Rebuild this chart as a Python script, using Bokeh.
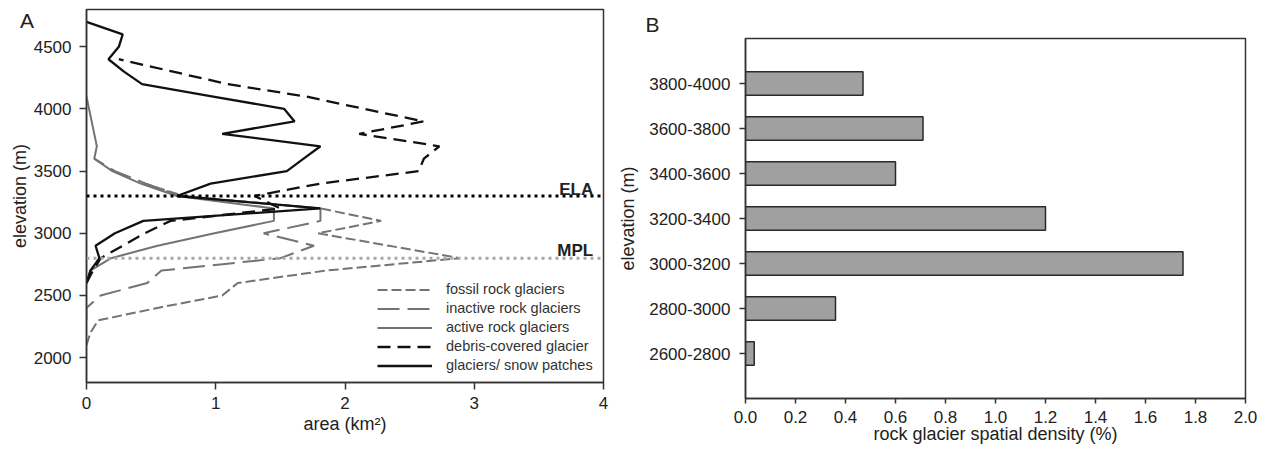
from jinja2 import Template
from bokeh.plotting import figure
from bokeh.models import Range1d, FixedTicker, Span, Label, PrintfTickFormatter, Title, Div
from bokeh.embed import file_html
from bokeh.resources import INLINE

# ---------------- Panel A data: area (km2) per 100 m elevation band ----------------
fossil_elev = [2100, 2200, 2300, 2400, 2500, 2600, 2700, 2800, 2900, 3000, 3100, 3200, 3300, 3400]
fossil_area = [0.00, 0.03, 0.09, 0.55, 1.05, 1.17, 1.85, 2.89, 2.34, 1.79, 2.28, 1.81, 0.75, 0.45]

inactive_elev = [2300, 2400, 2500, 2600, 2700, 2800, 2900, 3000, 3100, 3200, 3300, 3400, 3500, 3600]
inactive_area = [0.00, 0.00, 0.11, 0.47, 0.58, 1.50, 1.76, 1.37, 1.81, 1.81, 0.72, 0.46, 0.22, 0.06]

active_elev = [2600, 2700, 2800, 2900, 3000, 3100, 3200, 3300, 3400, 3500, 3600, 3700, 3800, 3900, 4000, 4100]
active_area = [0.00, 0.03, 0.19, 0.55, 0.99, 1.45, 1.45, 0.70, 0.42, 0.20, 0.06, 0.08, 0.06, 0.04, 0.02, 0.00]

debris_elev = [2600, 2700, 2800, 2900, 3000, 3100, 3200, 3300, 3400, 3500, 3600, 3700, 3800, 3900,
               4000, 4100, 4200, 4300, 4400]
debris_area = [0.00, 0.05, 0.11, 0.28, 0.45, 0.65, 1.50, 1.30, 1.81, 2.57, 2.61, 2.73, 2.11, 2.61,
               2.15, 1.70, 1.09, 0.67, 0.25]

glacier_elev = [2600, 2700, 2800, 2900, 3000, 3100, 3200, 3300, 3400, 3500, 3600, 3700, 3800, 3900,
                4000, 4100, 4200, 4300, 4400, 4500, 4600, 4700]
glacier_area = [0.00, 0.03, 0.10, 0.07, 0.22, 0.44, 1.81, 0.70, 0.96, 1.55, 1.68, 1.81, 1.05, 1.61,
                1.53, 0.98, 0.43, 0.29, 0.17, 0.25, 0.28, 0.00]

ela_elev = 3300
mpl_elev = 2800

a_xticks = [0, 1, 2, 3, 4]
a_yticks = [2000, 2500, 3000, 3500, 4000, 4500]

# ---------------- Panel B data ----------------
bands = ["2600-2800", "2800-3000", "3000-3200", "3200-3400", "3400-3600", "3600-3800", "3800-4000"]
density = [0.035, 0.36, 1.75, 1.20, 0.60, 0.71, 0.47]
b_xticks = [0.0, 0.2, 0.4, 0.6, 0.8, 1.0, 1.2, 1.4, 1.6, 1.8, 2.0]

FONT = "Liberation Sans"
TXT = "#222222"
AX = "#333333"
GRAY = "#737373"


def style_axes(p):
    for ax in (p.xaxis[0], p.yaxis[0]):
        ax.axis_line_color = AX
        ax.axis_line_width = 1.5
        ax.major_tick_line_color = AX
        ax.major_tick_line_width = 1.5
        ax.major_tick_in = 0
        ax.minor_tick_line_color = None
        ax.major_label_text_font = FONT
        ax.major_label_text_font_size = "17px"
        ax.major_label_text_color = TXT
        ax.axis_label_text_font = FONT
        ax.axis_label_text_font_size = "18px"
        ax.axis_label_text_font_style = "normal"
        ax.axis_label_text_color = TXT
    p.xgrid.visible = False
    p.ygrid.visible = False
    p.outline_line_color = AX
    p.outline_line_width = 1.5
    p.background_fill_color = "white"
    p.border_fill_color = "white"


# ================= Panel A =================
pA = figure(width=612, height=454, output_backend="svg", toolbar_location=None,
            x_range=Range1d(0, 4), y_range=Range1d(1800, 4800),
            min_border_left=86, min_border_right=9, min_border_top=9, min_border_bottom=72)
style_axes(pA)
pA.xaxis.ticker = FixedTicker(ticks=a_xticks)
pA.yaxis.ticker = FixedTicker(ticks=a_yticks)
pA.xaxis.axis_label = "area (km²)"
pA.yaxis.axis_label = "elevation (m)"
pA.xaxis.major_tick_out = 7
pA.yaxis.major_tick_out = 7
pA.xaxis.major_label_standoff = 7
pA.yaxis.major_label_standoff = 8
pA.xaxis.axis_label_standoff = 2
pA.yaxis.axis_label_standoff = 1

pA.add_layout(Span(location=ela_elev, dimension="width", line_color="black",
                   line_width=3, line_dash="3 4"))
pA.add_layout(Span(location=mpl_elev, dimension="width", line_color="#a8a8a8",
                   line_width=3, line_dash="3 4"))

pA.line(fossil_area, fossil_elev, line_color=GRAY, line_width=2, line_dash="10 4",
        legend_label="fossil rock glaciers")
pA.line(inactive_area, inactive_elev, line_color=GRAY, line_width=2, line_dash="22 8",
        legend_label="inactive rock glaciers")
pA.line(active_area, active_elev, line_color=GRAY, line_width=2,
        legend_label="active rock glaciers")
pA.line(debris_area, debris_elev, line_color="#111111", line_width=2.3, line_dash="13 7",
        legend_label="debris-covered glacier")
pA.line(glacier_area, glacier_elev, line_color="#111111", line_width=2.3,
        legend_label="glaciers/ snow patches")

lg = pA.legend[0]
lg.location = (287, 5)
lg.glyph_width = 55
lg.glyph_height = 15
lg.label_height = 15
lg.spacing = 3
lg.padding = 4
lg.margin = 0
lg.label_standoff = 14
lg.border_line_alpha = 0
lg.background_fill_color = "white"
lg.background_fill_alpha = 1
lg.label_text_font = FONT
lg.label_text_font_size = "14.5px"
lg.label_text_color = "#333333"

pA.add_layout(Label(x=3.92, y=ela_elev + 50, text="ELA", text_align="right",
                    text_baseline="alphabetic", text_font=FONT, text_font_size="17px",
                    text_font_style="bold", text_color=TXT))
pA.add_layout(Label(x=3.92, y=mpl_elev + 60, text="MPL", text_align="right",
                    text_baseline="alphabetic", text_font=FONT, text_font_size="17px",
                    text_font_style="bold", text_color=TXT))

# Panel letter "A" (sits beside the y axis, outside the plotting frame)
divA = Div(text='<span style="font-family: \'Liberation Sans\'; font-size: 21px; '
                'line-height: 21px; color: #222222;">A</span>',
           styles={"position": "absolute", "left": "20px", "top": "10px", "z-index": "10",
                   "margin": "0", "padding": "0"})

# ================= Panel B =================
band_pos = list(range(1, len(bands) + 1))
pB = figure(width=656, height=454, output_backend="svg", toolbar_location=None,
            x_range=Range1d(0, 2.0), y_range=Range1d(0, len(bands) + 1),
            min_border_left=133, min_border_right=23, min_border_top=38, min_border_bottom=56)
style_axes(pB)
pB.xaxis.ticker = FixedTicker(ticks=b_xticks)
pB.xaxis.formatter = PrintfTickFormatter(format="%.1f")
pB.yaxis.ticker = FixedTicker(ticks=band_pos)
pB.yaxis.major_label_overrides = {i: b for i, b in zip(band_pos, bands)}
pB.xaxis.axis_label = "rock glacier spatial density (%)"
pB.yaxis.axis_label = "elevation (m)"
pB.xaxis.major_tick_out = 5
pB.yaxis.major_tick_out = 6
pB.xaxis.major_label_standoff = 7
pB.yaxis.major_label_standoff = 9
pB.xaxis.axis_label_standoff = -2
pB.yaxis.axis_label_standoff = 8

pB.hbar(y=band_pos, right=density, left=0, height=0.52, fill_color="#a0a0a0",
        line_color="#2a2a2a", line_width=1.5)
pB.title = Title(text="B", align="left", offset=-100, standoff=5, text_font=FONT,
                 text_font_size="21px", text_font_style="normal", text_color=TXT)

# Two independent roots side by side (frames not aligned to each other)
tmpl = Template("""{% extends base %}
{% block postamble %}
<style>
html, html body { overflow: hidden !important; }
html body { display: flex !important; flex-direction: row; align-items: flex-start; }
</style>
{% endblock %}
""")

open("out.html", "w").write(file_html([pA, pB, divA], INLINE, template=tmpl))
